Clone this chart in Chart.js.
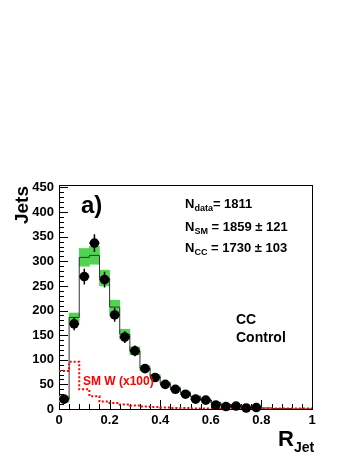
<!DOCTYPE html>
<html>
<head>
<meta charset="utf-8">
<script src="https://cdn.jsdelivr.net/npm/chart.js@4.4.1/dist/chart.umd.min.js"></script>
<style>
  html, body { margin: 0; padding: 0; background: #fff; }
  canvas { display: block; }
</style>
</head>
<body>
<canvas id="chart" width="354" height="458"></canvas>
<script>
// binning of R_Jet
const binWidth = 0.04;

// data points (one per bin, from R = 0)
const dataValues = [20, 173, 269, 337, 263, 191, 146, 118, 82, 64, 50, 40, 30, 20, 18, 8, 5, 6, 2, 3];
const dataErrors = [5, 13, 16, 18, 16, 14, 12, 11, 9, 8, 7, 6, 5, 4, 4, 3, 2, 2, 1, 2];

// SM expectation and its uncertainty band
const smValues = [20, 186, 308, 312, 266, 207, 152, 118, 83, 66, 52, 42, 33, 25, 19, 13, 9, 6, 4, 3, 2, 1, 1, 0, 0];
const smErrors = [6, 9, 18, 18, 16, 14, 10, 8, 5, 4, 3, 3, 2, 2, 2, 1, 1, 1, 1, 1, 0, 0, 0, 0, 0];

// SM W signal x100
const wValues = [77, 96, 40, 26, 15, 12, 9, 7, 5, 4, 3, 2, 2, 1, 1, 1, 1, 1, 1, 1, 1, 1, 1, 1, 1];

// axes
const yTickValues = [0, 50, 100, 150, 200, 250, 300, 350, 400, 450];
const xTickValues = [0, 0.2, 0.4, 0.6, 0.8, 1];
const xTickLabels = ['0', '0.2', '0.4', '0.6', '0.8', '1'];

const FONT = '"Liberation Sans", Arial, Helvetica, sans-serif';

function stepPoints(vals) {
  const pts = vals.map((v, i) => ({ x: i * binWidth, y: v }));
  pts.push({ x: vals.length * binWidth, y: vals[vals.length - 1] });
  return pts;
}

const bandData = smValues.map((v, i) => ({ x: (i + 0.5) * binWidth, y: [v - smErrors[i], v + smErrors[i]] }));
const pointData = dataValues.map((v, i) => ({ x: (i + 0.5) * binWidth, y: v }));

// ROOT-like frame, inward ticks, error bars
const framePlugin = {
  id: 'frame',
  beforeDatasetsDraw(chart) {
    const { ctx, chartArea: a, scales: { x, y } } = chart;
    ctx.save();
    ctx.strokeStyle = '#000';
    ctx.lineWidth = 1;
    ctx.strokeRect(a.left + 0.5, a.top + 0.5, a.right - a.left, a.bottom - a.top);
    ctx.beginPath();
    for (let v = 0; v <= 450; v += 10) {
      const py = Math.round(y.getPixelForValue(v)) + 0.5;
      const len = v % 50 === 0 ? 9 : 5;
      ctx.moveTo(a.left, py); ctx.lineTo(a.left + len, py);
    }
    for (let k = 0; k <= 25; k++) {
      const px = Math.round(x.getPixelForValue(k * binWidth)) + 0.5;
      const len = k % 5 === 0 ? 9 : 5;
      ctx.moveTo(px, a.bottom); ctx.lineTo(px, a.bottom - len);
    }
    ctx.stroke();
    ctx.restore();
  },
  afterDatasetsDraw(chart) {
    const { ctx, scales: { x, y } } = chart;
    ctx.save();
    ctx.strokeStyle = '#000';
    ctx.lineWidth = 1.5;
    ctx.beginPath();
    dataValues.forEach((v, i) => {
      const c = (i + 0.5) * binWidth;
      const px = x.getPixelForValue(c);
      ctx.moveTo(px, y.getPixelForValue(v - dataErrors[i]));
      ctx.lineTo(px, y.getPixelForValue(v + dataErrors[i]));
      ctx.moveTo(x.getPixelForValue(c - binWidth / 2), y.getPixelForValue(v));
      ctx.lineTo(x.getPixelForValue(c + binWidth / 2), y.getPixelForValue(v));
    });
    ctx.stroke();
    ctx.restore();
  },
  afterDraw(chart) {
    const ctx = chart.ctx;
    ctx.save();
    ctx.fillStyle = '#000';
    ctx.textBaseline = 'alphabetic';
    const pieces = (x0, y0, parts) => {
      let cx = x0;
      parts.forEach(([t, size, dy]) => {
        ctx.font = 'bold ' + size + 'px ' + FONT;
        ctx.fillText(t, cx, y0 + dy);
        cx += ctx.measureText(t).width;
      });
    };
    pieces(185, 208, [['N', 13, 0], ['data', 9, 3], ['= 1811', 13, 0]]);
    pieces(185, 231, [['N', 13, 0], ['SM', 9, 3], [' = 1859 \u00b1 121', 13, 0]]);
    pieces(185, 252, [['N', 13, 0], ['CC', 9, 3], [' = 1730 \u00b1 103', 13, 0]]);

    ctx.font = 'bold 14px ' + FONT;
    ctx.fillText('CC', 236, 324);
    ctx.fillText('Control', 236, 342);

    ctx.font = 'bold 24px ' + FONT;
    ctx.fillText('a)', 81, 213);

    ctx.fillStyle = '#ff0000';
    ctx.font = 'bold 12px ' + FONT;
    ctx.fillText('SM W (x100)', 83, 385);

    ctx.fillStyle = '#000';
    pieces(278, 446, [['R', 22, 0], ['Jet', 14, 6]]);

    ctx.translate(28, 186);
    ctx.rotate(-Math.PI / 2);
    ctx.textAlign = 'right';
    ctx.font = 'bold 19px ' + FONT;
    ctx.fillText('Jets', 0, 0);
    ctx.restore();
  }
};

new Chart(document.getElementById('chart'), {
  type: 'bar',
  data: {
    datasets: [
      {
        type: 'line',
        label: 'data',
        data: pointData,
        showLine: false,
        pointRadius: 4.8,
        pointBackgroundColor: '#000',
        pointBorderColor: '#000',
        pointBorderWidth: 0,
        clip: false,
        order: 0
      },
      {
        type: 'line',
        label: 'SM W (x100)',
        data: stepPoints(wValues),
        stepped: 'before',
        borderColor: '#ff0000',
        borderWidth: 2,
        borderDash: [2, 2],
        pointRadius: 0,
        fill: false,
        order: 1
      },
      {
        type: 'line',
        label: 'SM',
        data: stepPoints(smValues),
        stepped: 'before',
        borderColor: '#333',
        borderWidth: 1,
        pointRadius: 0,
        fill: false,
        order: 2
      },
      {
        type: 'bar',
        label: 'SM uncertainty',
        data: bandData,
        backgroundColor: '#52d452',
        borderWidth: 0,
        barPercentage: 1,
        categoryPercentage: 1,
        order: 3
      }
    ]
  },
  options: {
    responsive: false,
    animation: false,
    devicePixelRatio: 1,
    layout: { padding: { top: 185, right: 42, left: 0, bottom: 0 } },
    plugins: { legend: { display: false }, tooltip: { enabled: false } },
    scales: {
      x: {
        type: 'linear',
        min: 0,
        max: 1,
        offset: false,
        grid: { display: false, drawTicks: false },
        border: { display: false },
        afterFit: (s) => { s.height = 49; },
        afterBuildTicks: (s) => { s.ticks = xTickValues.map(v => ({ value: v })); },
        ticks: {
          autoSkip: false,
          maxRotation: 0,
          padding: 4,
          color: '#000',
          font: { family: FONT, size: 13, weight: 'bold' },
          callback: (v) => xTickLabels[xTickValues.indexOf(v)]
        }
      },
      y: {
        type: 'linear',
        min: 0,
        max: 455,
        grid: { display: false, drawTicks: false },
        border: { display: false },
        afterFit: (s) => { s.width = 59; },
        afterBuildTicks: (s) => { s.ticks = yTickValues.map(v => ({ value: v })); },
        ticks: {
          autoSkip: false,
          padding: 5,
          color: '#000',
          font: { family: FONT, size: 13, weight: 'bold' }
        }
      }
    }
  },
  plugins: [framePlugin]
});
</script>
</body>
</html>
